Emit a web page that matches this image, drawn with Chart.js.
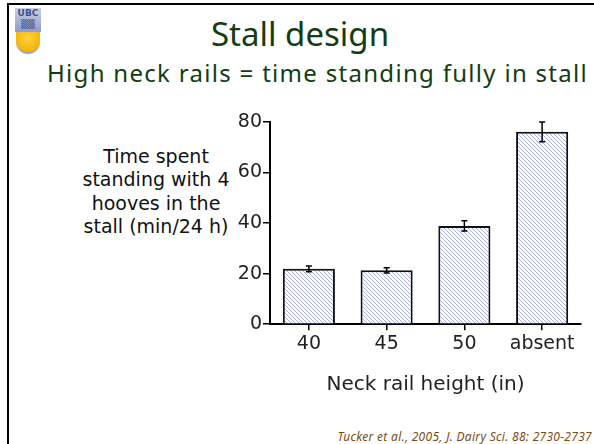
<!DOCTYPE html>
<html>
<head>
<meta charset="utf-8">
<script src="https://cdn.jsdelivr.net/npm/chart.js@4"></script>
<style>
  body { margin: 0; background: #fff; }
  #slide { position: relative; width: 594px; height: 444px; overflow: hidden; background: #fff; }
  #frame { position: absolute; left: 7px; top: 3px; right: -10px; bottom: -10px; border-top: 2px solid #000; border-left: 2px solid #000; }
  #logo { position: absolute; left: 13px; top: 8px; width: 30px; height: 46px; }
  #logo .ubc { position: absolute; left: 2px; top: 0; width: 26px; height: 24px; background: linear-gradient(#c9d0e6, #8e9cc6); color: #3b4f8f; font: bold 9px "DejaVu Sans", sans-serif; text-align: center; line-height: 11px; }
  #logo .sun { position: absolute; left: 3px; top: 24px; width: 24px; height: 20px; border-radius: 0 0 12px 12px; background: radial-gradient(circle at 50% 30%, #ffd23a, #eaa900); border-bottom: 2px solid #9aa6cc; }
  .txt { position: absolute; white-space: nowrap; }
  #title { left: 0; width: 600px; top: 11px; text-align: center; font: 33px "Comic Sans MS", "Noto Sans", sans-serif; color: #123d12; }
  #subtitle { left: 47px; top: 56px; font: 24px "Comic Sans MS", "Noto Sans", sans-serif; letter-spacing: 1.3px; color: #123d12; }
  #ylabel { left: 56px; width: 200px; top: 145px; text-align: center; font: 19px "DejaVu Sans", sans-serif; line-height: 23.3px; color: #111; }
  #cite { right: 2px; top: 428px; font: italic 12px "Comic Sans MS", "Noto Sans", sans-serif; letter-spacing: 0.3px; color: #7a4a18; }
  canvas { position: absolute; left: 0; top: 0; }
</style>
</head>
<body>
<div id="slide">
  <div id="frame"></div>
  <div id="logo"><div class="ubc">UBC<br>▒▒</div><div class="sun"></div></div>
  <div class="txt" id="title">Stall design</div>
  <div class="txt" id="subtitle">High neck rails = time standing fully in stall</div>
  <div class="txt" id="ylabel">Time spent<br>standing with 4<br>hooves in the<br>stall (min/24 h)</div>
  <div class="txt" id="cite">Tucker et al., 2005, J. Dairy Sci. 88: 2730-2737</div>
  <canvas id="graph0" width="594" height="444"></canvas>
</div>
<script>
// neck rail height categories and mean time (min/24 h) with error bars
var categories = ['40', '45', '50', 'absent'];
var meanValues = [21.9, 21.3, 38.9, 76.1];
var errValues = [1.1, 1.0, 2.0, 3.9];
var yTicks = [0, 20, 40, 60, 80];
var xTitle = 'Neck rail height (in)';

function hatchPattern() {
  var c = document.createElement('canvas');
  c.width = 4;
  c.height = 4;
  var g = c.getContext('2d');
  g.fillStyle = '#ffffff';
  g.fillRect(0, 0, 4, 4);
  g.strokeStyle = '#a9afe0';
  g.lineWidth = 1;
  g.beginPath();
  g.moveTo(-1, -1); g.lineTo(5, 5);
  g.moveTo(-1, 3); g.lineTo(1, 5);
  g.moveTo(3, -1); g.lineTo(5, 1);
  g.stroke();
  return g.createPattern(c, 'repeat');
}

var errorBars = {
  id: 'errorBars',
  afterDatasetsDraw: function(chart) {
    var ctx = chart.ctx;
    var y = chart.scales.y;
    var meta = chart.getDatasetMeta(0);
    ctx.save();
    ctx.strokeStyle = '#000';
    ctx.lineWidth = 1.5;
    for (var i = 0; i < meta.data.length; i++) {
      var x = meta.data[i].x;
      var top = y.getPixelForValue(meanValues[i] + errValues[i]);
      var bot = y.getPixelForValue(meanValues[i] - errValues[i]);
      ctx.beginPath();
      ctx.moveTo(x, top); ctx.lineTo(x, bot);
      ctx.moveTo(x - 3, top); ctx.lineTo(x + 3, top);
      ctx.moveTo(x - 3, bot); ctx.lineTo(x + 3, bot);
      ctx.stroke();
    }
    ctx.restore();
  }
};

var tickFont = { family: 'DejaVu Sans', size: 19 };

new Chart(document.getElementById('graph0'), {
  type: 'bar',
  data: {
    labels: categories,
    datasets: [{
      data: meanValues,
      backgroundColor: hatchPattern(),
      borderColor: '#111',
      borderWidth: 2,
      categoryPercentage: 1,
      barPercentage: 0.67
    }]
  },
  options: {
    responsive: false,
    animation: false,
    events: [],
    layout: { padding: { left: 200, right: 13, top: 122, bottom: 47 } },
    plugins: { legend: { display: false }, tooltip: { enabled: false } },
    scales: {
      x: {
        grid: { drawOnChartArea: false, drawTicks: true, tickLength: 6, color: '#000', lineWidth: 1.5, offset: false },
        border: { display: true, color: '#000', width: 2 },
        ticks: { color: '#222', font: tickFont, padding: 2 },
        title: { display: true, text: xTitle, color: '#222', font: { family: 'DejaVu Sans', size: 20 }, padding: { top: 16, bottom: 0 } }
      },
      y: {
        min: 0,
        max: 80,
        afterFit: function(s) { s.width = 70; },
        afterBuildTicks: function(s) { s.ticks = yTicks.map(function(v) { return { value: v }; }); },
        grid: { drawOnChartArea: false, drawTicks: true, tickLength: 7, color: '#000', lineWidth: 1.5 },
        border: { display: true, color: '#000', width: 2 },
        ticks: { color: '#222', font: tickFont, padding: 1 }
      }
    }
  },
  plugins: [errorBars]
});
</script>
</body>
</html>
